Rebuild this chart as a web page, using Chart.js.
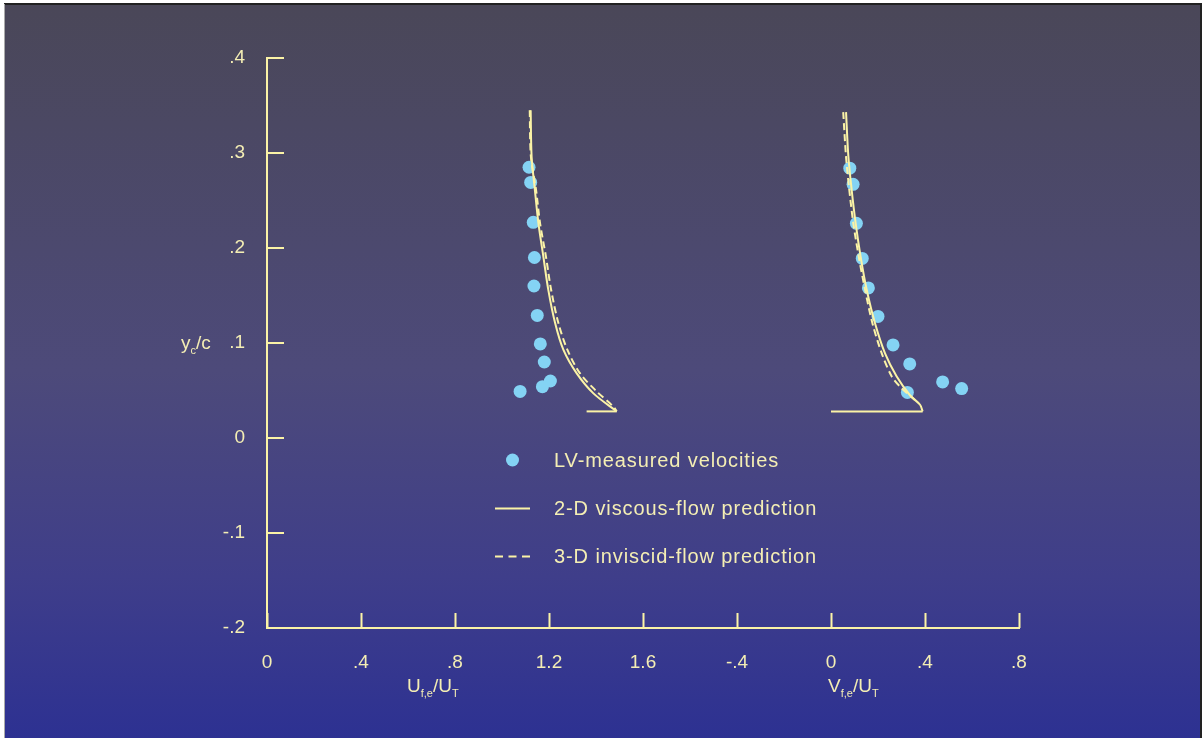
<!DOCTYPE html>
<html>
<head>
<meta charset="utf-8">
<script src="https://cdn.jsdelivr.net/npm/chart.js"></script>
<style>
  html, body { margin: 0; padding: 0; background: #ffffff; }
  #wrap { width: 1204px; height: 738px; position: relative; }
</style>
</head>
<body>
<div id="wrap"><canvas id="chartCanvas" width="1204" height="738"></canvas></div>
<script>
// tick labels (one shared x axis: U scale on the left, V scale shifted right)
const xTickLabels = ['0', '.4', '.8', '1.2', '1.6', '-.4', '0', '.4', '.8'];
const yTickLabels = ['-.2', '-.1', '0', '.1', '.2', '.3', '.4'];
const vOffset = 2.4; // V = 0 sits at 2.4 on the shared axis

// LV-measured velocities
const measY  = [0.285, 0.269, 0.227, 0.190, 0.160, 0.129, 0.099, 0.080, 0.060, 0.054, 0.049];
const measU  = [1.115, 1.122, 1.133, 1.138, 1.136, 1.150, 1.163, 1.180, 1.206, 1.172, 1.077];
const measVY = [0.284, 0.267, 0.226, 0.189, 0.158, 0.128, 0.098, 0.078, 0.059, 0.052, 0.048];
const measV  = [0.080, 0.094, 0.108, 0.133, 0.159, 0.200, 0.264, 0.335, 0.475, 0.556, 0.325];

// 2-D viscous-flow prediction
const viscY  = [0.345, 0.296, 0.261, 0.226, 0.191, 0.156, 0.121, 0.093, 0.068, 0.047, 0.028];
const viscU  = [1.122, 1.126, 1.140, 1.155, 1.176, 1.197, 1.226, 1.261, 1.318, 1.389, 1.488];
const viscVY = [0.343, 0.296, 0.261, 0.226, 0.191, 0.156, 0.121, 0.089, 0.065, 0.045, 0.035, 0.028];
const viscV  = [0.064, 0.074, 0.088, 0.105, 0.126, 0.152, 0.187, 0.230, 0.279, 0.336, 0.379, 0.390];
const footY  = [0.028, 0.028];
const footU  = [1.360, 1.488];
const footV  = [0.000, 0.390];

// 3-D inviscid-flow prediction
const invY   = [0.345, 0.296, 0.261, 0.226, 0.191, 0.156, 0.121, 0.093, 0.068, 0.049, 0.033, 0.028];
const invU   = [1.118, 1.123, 1.145, 1.162, 1.187, 1.209, 1.240, 1.278, 1.332, 1.403, 1.474, 1.488];
const invVY  = [0.343, 0.296, 0.261, 0.226, 0.191, 0.156, 0.121, 0.089, 0.065, 0.054, 0.040];
const invV   = [0.052, 0.064, 0.078, 0.095, 0.118, 0.145, 0.176, 0.216, 0.258, 0.294, 0.357];

const lineColor = '#fbf3a6';
const textColor = '#f4eeb4';
const dotColor = '#84d3f4';
const fontFamily = 'Arial, "Liberation Sans", Helvetica, sans-serif';

function pts(xs, ys, shift) {
    return xs.map((x, i) => ({ x: x + (shift || 0), y: ys[i] }));
}

function lineSet(data, dashed, tension) {
    return {
        type: 'scatter',
        data: data,
        showLine: true,
        borderColor: lineColor,
        borderWidth: 2,
        borderDash: dashed ? [7, 4] : [],
        pointRadius: 0,
        tension: tension,
        fill: false
    };
}

// background, inner tick marks, axis titles and the legend
const decorPlugin = {
    id: 'decor',
    beforeDraw(chart) {
        const ctx = chart.ctx;
        ctx.save();
        const g = ctx.createLinearGradient(0, 4, 0, 738);
        g.addColorStop(0, '#4a4758');
        g.addColorStop(0.5, '#4d4a7a');
        g.addColorStop(0.78, '#3f3e8a');
        g.addColorStop(1, '#2d3192');
        ctx.fillStyle = g;
        ctx.fillRect(4, 4, 1197, 734);
        ctx.fillStyle = '#222222';
        ctx.fillRect(4, 3, 1198, 2);
        ctx.fillRect(1200, 3, 2, 735);
        ctx.fillStyle = '#aaaaaa';
        ctx.fillRect(4, 4, 1, 734);
        ctx.restore();
    },
    afterDraw(chart) {
        const ctx = chart.ctx;
        const xs = chart.scales.x;
        const ys = chart.scales.y;
        const area = chart.chartArea;
        ctx.save();
        ctx.strokeStyle = lineColor;
        ctx.lineWidth = 2;
        ctx.beginPath();
        xs.ticks.forEach(t => {
            const px = Math.round(xs.getPixelForValue(t.value)) + 0.5;
            ctx.moveTo(px, area.bottom);
            ctx.lineTo(px, area.bottom - 15);
        });
        ys.ticks.forEach(t => {
            const py = Math.round(ys.getPixelForValue(t.value));
            ctx.moveTo(area.left, py);
            ctx.lineTo(area.left + 17, py);
        });
        ctx.stroke();

        // axis titles with subscripts
        ctx.fillStyle = textColor;
        ctx.textBaseline = 'alphabetic';
        ctx.textAlign = 'left';
        function runs(parts, x, y) {
            parts.forEach(p => {
                ctx.font = (p.sub ? '11px ' : '19px ') + fontFamily;
                ctx.fillText(p.t, x, y + (p.sub ? 5 : 0));
                x += ctx.measureText(p.t).width;
            });
        }
        runs([{ t: 'y' }, { t: 'c', sub: true }, { t: '/c' }], 181, 349);
        runs([{ t: 'U' }, { t: 'f,e', sub: true }, { t: '/U' }, { t: 'T', sub: true }], 407, 692);
        runs([{ t: 'V' }, { t: 'f,e', sub: true }, { t: '/U' }, { t: 'T', sub: true }], 828, 692);

        // legend
        ctx.font = '20px ' + fontFamily;
        ctx.letterSpacing = '0.9px';
        ctx.textBaseline = 'middle';
        ctx.fillStyle = dotColor;
        ctx.beginPath();
        ctx.arc(512.5, 460, 6.5, 0, Math.PI * 2);
        ctx.fill();
        ctx.fillStyle = textColor;
        ctx.fillText('LV-measured velocities', 554, 461);
        ctx.fillText('2-D viscous-flow prediction', 554, 509);
        ctx.fillText('3-D inviscid-flow prediction', 554, 557);
        ctx.strokeStyle = lineColor;
        ctx.beginPath();
        ctx.moveTo(495, 508.5);
        ctx.lineTo(530, 508.5);
        ctx.stroke();
        ctx.setLineDash([8, 5.5]);
        ctx.beginPath();
        ctx.moveTo(495, 556.5);
        ctx.lineTo(530, 556.5);
        ctx.stroke();
        ctx.restore();
    }
};

const ctx = document.getElementById('chartCanvas').getContext('2d');
new Chart(ctx, {
    type: 'scatter',
    data: {
        datasets: [
            lineSet(pts(invU, invY), true, 0.3),
            lineSet(pts(invV, invVY, vOffset), true, 0.3),
            lineSet(pts(viscU, viscY), false, 0.3),
            lineSet(pts(viscV, viscVY, vOffset), false, 0.3),
            lineSet(pts(footU, footY), false, 0),
            lineSet(pts(footV, footY, vOffset), false, 0),
            {
                data: pts(measU, measY).concat(pts(measV, measVY, vOffset)),
                backgroundColor: dotColor,
                borderWidth: 0,
                pointRadius: 6.5,
                pointHoverRadius: 6.5
            }
        ]
    },
    plugins: [decorPlugin],
    options: {
        responsive: false,
        animation: false,
        events: [],
        layout: { padding: { top: 58, right: 185, bottom: 0, left: 0 } },
        plugins: {
            legend: { display: false },
            tooltip: { enabled: false }
        },
        scales: {
            x: {
                type: 'linear',
                min: 0,
                max: 3.2,
                afterFit: s => { s.height = 110; },
                grid: { display: false, drawTicks: false },
                border: { display: true, color: lineColor, width: 2 },
                ticks: {
                    stepSize: 0.4,
                    padding: 23,
                    autoSkip: false,
                    maxRotation: 0,
                    color: textColor,
                    font: { family: fontFamily, size: 19 },
                    callback: (v, i) => xTickLabels[i]
                }
            },
            y: {
                type: 'linear',
                min: -0.2,
                max: 0.4,
                afterFit: s => { s.width = 267; },
                grid: { display: false, drawTicks: false },
                border: { display: true, color: lineColor, width: 2 },
                ticks: {
                    stepSize: 0.1,
                    padding: 22,
                    color: textColor,
                    font: { family: fontFamily, size: 19 },
                    callback: (v, i) => yTickLabels[i]
                }
            }
        }
    }
});
</script>
</body>
</html>
